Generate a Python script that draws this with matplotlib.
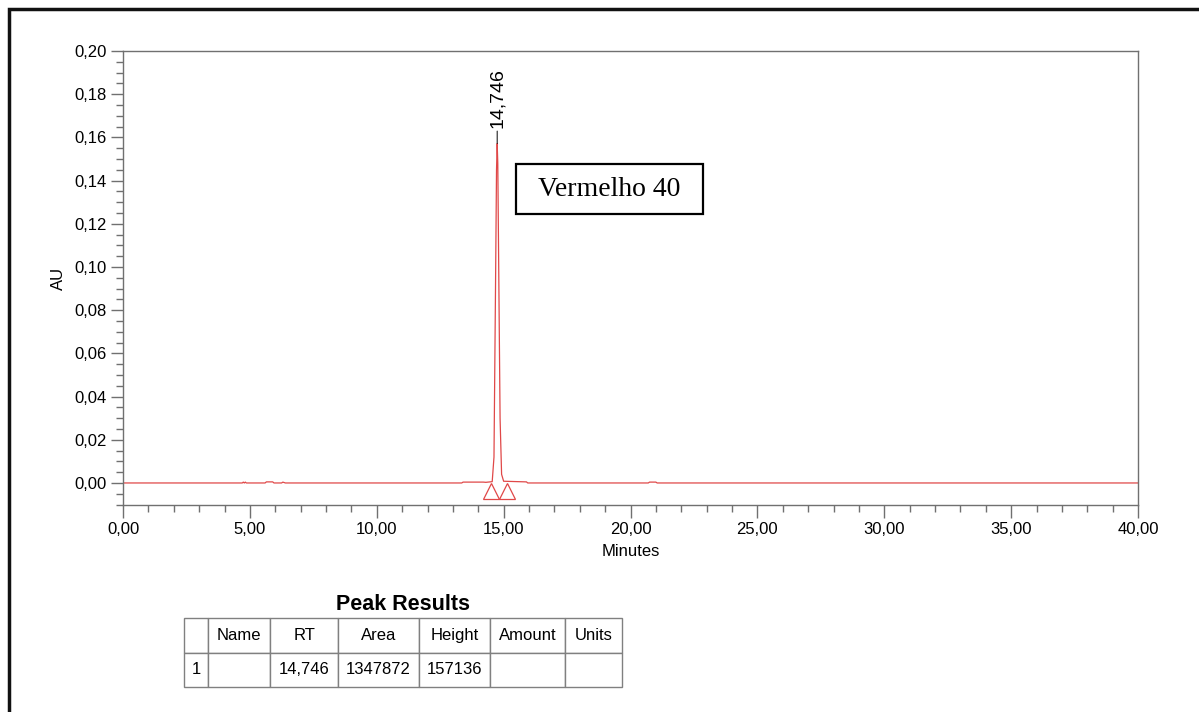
import matplotlib
matplotlib.use("Agg")
import matplotlib.pyplot as plt
from matplotlib.patches import Rectangle
from matplotlib.ticker import MultipleLocator, FuncFormatter

# chromatogram trace (minutes, AU)
rt = [0.00, 4.70, 4.74, 4.78, 4.82, 4.86, 4.90, 5.60, 5.65, 5.90, 5.95, 6.25, 6.30, 6.40,
      13.35, 13.40, 14.20, 14.30, 14.55, 14.62, 14.68, 14.72, 14.746, 14.77, 14.81,
      14.86, 14.92, 15.00, 15.90, 15.95, 20.70, 20.75, 21.00, 21.05, 40.00]
au = [0.0, 0.0, 0.0004, 0.0, 0.0004, 0.0, 0.0, 0.0, 0.0005, 0.0005, 0.0, 0.0, 0.0004, 0.0,
      0.0, 0.0004, 0.0004, 0.0003, 0.0006, 0.012, 0.09, 0.145, 0.157136, 0.148, 0.095,
      0.03, 0.004, 0.0008, 0.0005, 0.0, 0.0, 0.0004, 0.0004, 0.0, 0.0]

# baseline start / end markers of the integrated peak
mark_rt = [14.50, 15.13]
mark_au = [-0.0037, -0.0037]

peak_rt = 14.746
peak_h = 0.157136

# peak results table
col_labels = ["", "Name", "RT", "Area", "Height", "Amount", "Units"]
row_values = ["1", "", "14,746", "1347872", "157136", "", ""]
col_widths = [24.3, 62, 68, 81, 71, 75, 57]

W, H = 1199, 712
fig = plt.figure(figsize=(W / 100, H / 100), dpi=100)
plt.rcParams['font.family'] = ['Liberation Sans', 'DejaVu Sans']

ax = fig.add_axes([123 / W, 1 - 505 / H, 1015 / W, 454 / H])
red = '#e04848'
ax.plot(rt, au, color=red, lw=0.9)
ax.plot(mark_rt, mark_au, linestyle='none', marker='^', ms=11,
        markerfacecolor='none', markeredgecolor=red, markeredgewidth=0.9)

ax.annotate("14,746", xy=(peak_rt, peak_h), xytext=(0, 11), textcoords='offset points',
            rotation=90, ha='center', va='bottom', fontsize=14,
            arrowprops=dict(arrowstyle='-', color='black', lw=0.7, shrinkA=0, shrinkB=0))

ax.set_xlim(0, 40)
ax.set_ylim(-0.0102, 0.20)
comma = FuncFormatter(lambda v, p: f"{v:.2f}".replace('.', ','))
ax.xaxis.set_major_locator(MultipleLocator(5))
ax.xaxis.set_minor_locator(MultipleLocator(1))
ax.yaxis.set_major_locator(MultipleLocator(0.02))
ax.yaxis.set_minor_locator(MultipleLocator(0.005))
ax.xaxis.set_major_formatter(comma)
ax.yaxis.set_major_formatter(comma)
ax.tick_params(which='major', length=9, width=1, color='#707070', labelsize=12, pad=3)
ax.tick_params(which='minor', length=5, width=1, color='#707070')
for s in ax.spines.values():
    s.set_color('#707070')
    s.set_linewidth(1)
ax.set_xlabel("Minutes", fontsize=12, labelpad=5)
ax.set_ylabel("AU", fontsize=12, labelpad=6)

# label box
fig.add_artist(Rectangle((516 / W, 1 - 214 / H), 187 / W, 50 / H, transform=fig.transFigure,
                         fill=False, edgecolor='black', lw=1.6))
fig.text(609.5 / W, 1 - 190 / H, "Vermelho 40", ha='center', va='center', fontsize=20,
         family=['Liberation Serif', 'DejaVu Serif'])

# page frame
fig.add_artist(Rectangle((9 / W, -0.1), 1.2, 1 - 9 / H + 0.1, transform=fig.transFigure,
                         fill=False, edgecolor='#111111', lw=2.5))

# results table
fig.text(403 / W, 1 - 605 / H, "Peak Results", ha='center', va='center',
         fontsize=15.5, fontweight='bold')
tax = fig.add_axes([184 / W, 1 - 687 / H, 438 / W, 69 / H])
tax.axis('off')
tot = sum(col_widths)
tbl = tax.table(cellText=[col_labels, row_values], cellLoc='center',
                colWidths=[c / tot for c in col_widths], bbox=[0, 0, 1, 1])
tbl.auto_set_font_size(False)
tbl.set_fontsize(12)
for cell in tbl.get_celld().values():
    cell.set_edgecolor('#808080')
    cell.set_linewidth(1)

fig.savefig("out.png", dpi=100)
